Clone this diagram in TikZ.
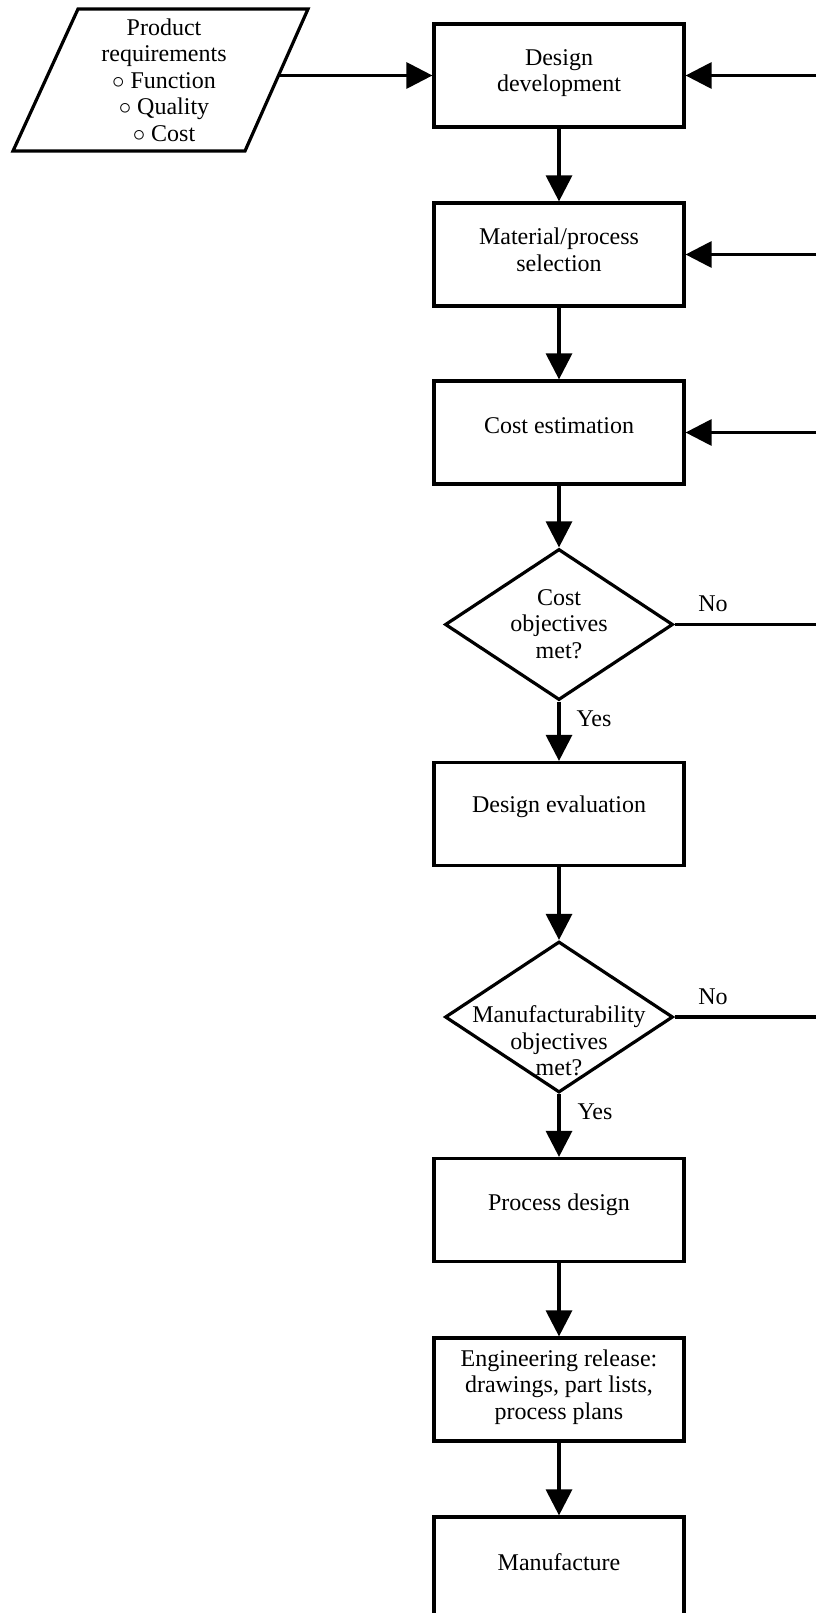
\documentclass[tikz,border=0pt]{standalone}
\usepackage{fontspec}
\setmainfont{Liberation Serif}
\usetikzlibrary{arrows.meta,shapes.geometric}
\begin{document}
\begin{tikzpicture}[x=1pt,y=-1pt,line width=3.2pt,
  box/.style={draw,rectangle,minimum width=250pt,minimum height=103pt,inner sep=0pt},
  dec/.style={draw,diamond,aspect=1.51,minimum width=228pt,minimum height=151pt,inner sep=0pt},
  txt/.style={align=center,font=\fontsize{24}{26.5}\selectfont,inner sep=0pt},
  arr/.style={-{Triangle[length=26pt,width=26pt]}}]
\path[use as bounding box] (0,0) rectangle (816,1613);
\fill[white] (0,0) rectangle (816,1613);
\clip (0,0) rectangle (816,1613);

% input parallelogram
\coordinate (pa) at (78,9);
\coordinate (pb) at (308,9);
\coordinate (pc) at (245,151);
\coordinate (pd) at (13,151);
\draw (pa) -- (pb) -- (pc) -- (pd) -- cycle;
\node[txt] (prt) at (164,80) {Product\\requirements\\$\circ$ Function\\$\circ$ Quality\\$\circ$ Cost};
\coordinate (pout) at (279,75.5);

% boxes
\node[box] (dd) at (559,75.5) {};
\node[txt] (ddt) at (559,73) {Design\\development};
\node[box] (mp) at (559,254.5) {};
\node[txt] (mpt) at (559,250) {Material/process\\selection};
\node[box] (ce) at (559,432.5) {};
\node[txt] (cet) at (559,426) {Cost estimation};
\node[dec] (d1) at (559,624.5) {};
\node[txt] (d1t) at (559,624) {Cost\\objectives\\met?};
\node[box] (de) at (559,814) {};
\node[txt] (det) at (559,807) {Design evaluation};
\node[dec] (d2) at (559,1017) {};
\node[txt] (d2t) at (559,1041) {Manufacturability\\objectives\\met?};
\node[box] (pdn) at (559,1210) {};
\node[txt] (pdt) at (559,1205) {Process design};
\node[box] (er) at (559,1389.5) {};
\node[txt] (ert) at (559,1387) {Engineering release:\\drawings, part lists,\\process plans};
\node[box,minimum height=200pt] (mf) at (559,1617) {};
\node[txt] (mft) at (559,1562) {Manufacture};

% labels
\node[txt] (no1) at (713,604) {No};
\node[txt] (yes1) at (594,719) {Yes};
\node[txt] (no2) at (713,997) {No};
\node[txt] (yes2) at (595,1112) {Yes};

% right-side feedback lines (continue beyond the picture)
\coordinate (r1) at (816,75.5);
\coordinate (r2) at (816,254.5);
\coordinate (r3) at (816,432.5);
\coordinate (r4) at (816,624.5);
\coordinate (r5) at (816,1017);

% connectors
\draw[arr] (pout) -- (dd.west);
\draw[arr] (dd.south) -- (mp.north);
\draw[arr] (mp.south) -- (ce.north);
\draw[arr] (ce.south) -- (d1.north);
\draw[arr] (d1.south) -- (de.north);
\draw[arr] (de.south) -- (d2.north);
\draw[arr] (d2.south) -- (pdn.north);
\draw[arr] (pdn.south) -- (er.north);
\draw[arr] (er.south) -- (mf.north);
\draw[arr] (r1) -- (dd.east);
\draw[arr] (r2) -- (mp.east);
\draw[arr] (r3) -- (ce.east);
\draw (d1.east) -- (r4);
\draw (d2.east) -- (r5);
\end{tikzpicture}
\end{document}
